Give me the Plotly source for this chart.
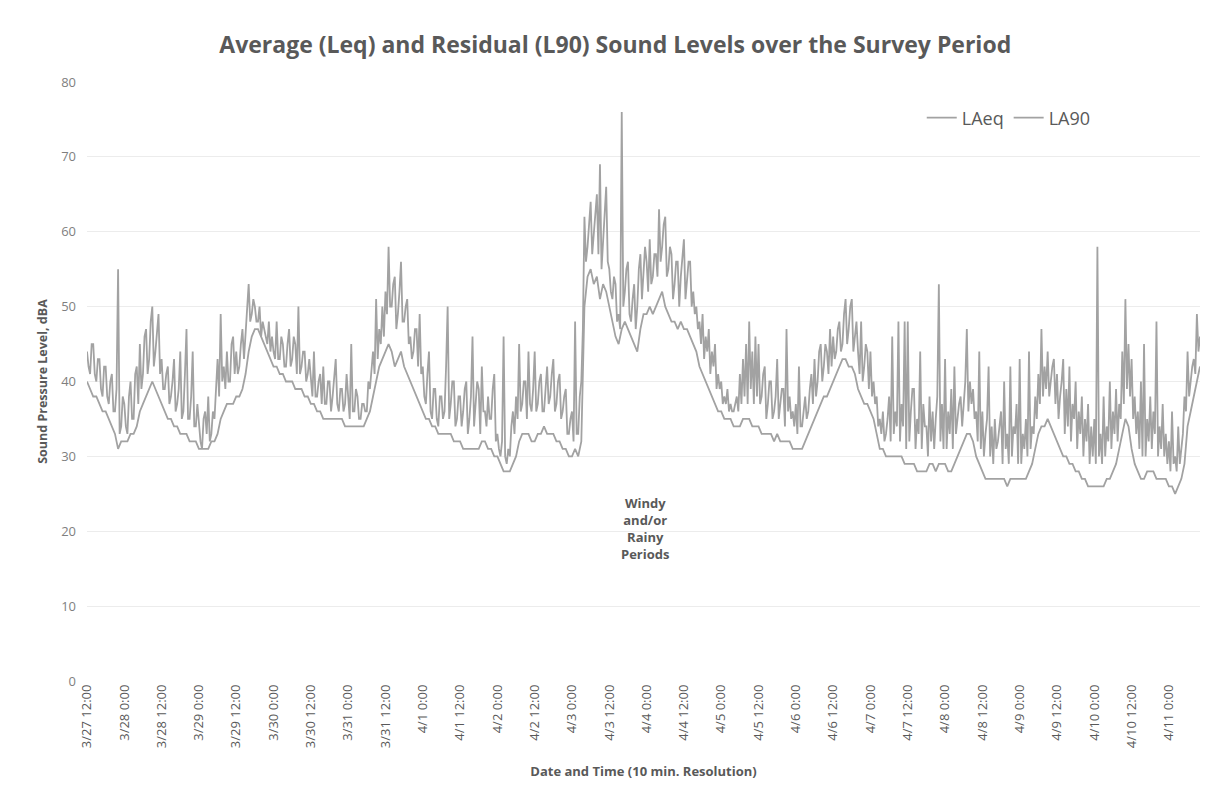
import pandas as pd
import plotly.graph_objects as go

# LAeq read every 30 min, LA90 read every hour, both starting 3/27 12:00
start_time = "2019-03-27 12:00"

laeq = [
    44, 42, 41, 45, 45, 41, 40, 43, 43, 39, 38, 42, 42, 38, 37, 40, 41, 36, 36, 39, 55, 33, 34, 38,
    37, 34, 33, 38, 40, 35, 35, 41, 42, 37, 45, 39, 41, 46, 47, 41, 43, 48, 50, 42, 44, 47, 49, 41,
    43, 39, 39, 41, 42, 37, 38, 40, 43, 36, 37, 39, 44, 35, 36, 41, 47, 35, 35, 38, 44, 34, 34, 37,
    34, 32, 31, 35, 36, 33, 38, 32, 33, 36, 35, 40, 43, 38, 49, 40, 42, 39, 44, 40, 40, 45, 46, 41,
    44, 41, 42, 45, 47, 43, 46, 49, 53, 48, 49, 51, 50, 48, 48, 50, 46, 48, 47, 46, 45, 48, 44, 46,
    44, 43, 48, 43, 43, 46, 45, 42, 42, 45, 47, 42, 43, 46, 45, 41, 50, 41, 42, 44, 44, 40, 41, 43,
    40, 38, 44, 38, 38, 40, 41, 37, 42, 37, 37, 40, 40, 36, 38, 41, 43, 37, 36, 39, 39, 36, 37, 41,
    38, 35, 45, 36, 36, 39, 38, 35, 35, 37, 37, 36, 36, 40, 39, 42, 44, 41, 51, 43, 47, 45, 50, 46,
    52, 49, 58, 50, 50, 53, 54, 47, 49, 52, 56, 48, 48, 50, 51, 45, 46, 43, 44, 47, 47, 42, 49, 41,
    42, 38, 37, 41, 44, 36, 35, 39, 39, 35, 34, 38, 38, 35, 36, 42, 50, 35, 37, 40, 40, 34, 35, 38,
    38, 34, 36, 39, 40, 33, 35, 38, 46, 34, 37, 40, 39, 33, 42, 36, 36, 34, 38, 35, 35, 39, 41, 32,
    33, 31, 30, 32, 46, 30, 29, 31, 30, 34, 36, 33, 38, 35, 45, 36, 37, 40, 40, 35, 44, 37, 36, 39,
    44, 36, 37, 40, 41, 36, 36, 39, 42, 37, 38, 41, 43, 36, 37, 40, 41, 35, 36, 38, 39, 33, 33, 35,
    36, 32, 48, 33, 33, 38, 40, 47, 62, 56, 58, 61, 64, 57, 60, 63, 65, 57, 69, 55, 59, 62, 66, 56,
    55, 52, 51, 54, 53, 48, 49, 47, 76, 50, 52, 55, 56, 49, 48, 51, 53, 47, 50, 55, 57, 51, 54, 58,
    56, 52, 59, 53, 54, 57, 57, 54, 63, 56, 58, 61, 62, 54, 55, 58, 57, 51, 53, 56, 56, 50, 54, 57,
    59, 51, 54, 56, 56, 50, 52, 49, 50, 47, 48, 45, 49, 43, 46, 44, 47, 41, 44, 42, 45, 39, 41, 39,
    40, 37, 38, 37, 39, 36, 37, 36, 36, 37, 38, 36, 41, 37, 43, 38, 45, 37, 48, 39, 44, 37, 46, 38,
    45, 37, 38, 41, 42, 35, 37, 40, 40, 35, 36, 38, 43, 35, 37, 39, 39, 34, 47, 36, 38, 35, 36, 34,
    37, 33, 42, 34, 34, 36, 38, 35, 36, 39, 41, 37, 43, 38, 40, 44, 45, 40, 42, 45, 44, 41, 47, 42,
    46, 43, 44, 47, 48, 44, 45, 49, 51, 45, 47, 50, 51, 44, 46, 48, 44, 41, 48, 40, 42, 45, 44, 39,
    44, 38, 40, 37, 38, 34, 35, 33, 36, 32, 33, 35, 38, 32, 46, 33, 36, 34, 48, 32, 37, 34, 48, 31,
    48, 32, 36, 39, 39, 31, 35, 33, 44, 31, 37, 34, 34, 30, 38, 32, 36, 31, 35, 38, 53, 32, 37, 31,
    43, 31, 36, 33, 39, 31, 42, 33, 35, 37, 38, 34, 37, 40, 47, 36, 40, 37, 39, 35, 36, 32, 44, 31,
    36, 30, 33, 35, 42, 30, 34, 29, 35, 31, 32, 34, 36, 29, 40, 31, 33, 29, 42, 30, 34, 33, 37, 29,
    43, 29, 33, 31, 35, 30, 44, 31, 34, 33, 38, 35, 41, 37, 47, 38, 42, 39, 44, 38, 40, 42, 43, 37,
    41, 35, 38, 40, 43, 33, 39, 34, 42, 32, 37, 35, 40, 31, 36, 33, 38, 30, 35, 32, 37, 29, 34, 30,
    35, 29, 58, 30, 33, 29, 38, 30, 34, 32, 40, 31, 36, 33, 39, 32, 37, 35, 44, 37, 51, 39, 45, 38,
    43, 35, 38, 33, 36, 31, 40, 30, 45, 30, 35, 32, 38, 31, 36, 33, 48, 30, 34, 31, 37, 30, 33, 29,
    32, 28, 36, 29, 30, 28, 34, 29, 31, 33, 38, 36, 44, 38, 40, 42, 43, 41, 49, 44, 46,
]

la90 = [
    40, 39, 38, 38, 37, 36, 36, 35, 34, 33, 31, 32,
    32, 32, 33, 33, 34, 36, 37, 38, 39, 40, 39, 38,
    37, 36, 35, 35, 34, 34, 33, 33, 33, 32, 32, 32,
    31, 31, 31, 31, 32, 32, 33, 35, 36, 37, 37, 37,
    38, 38, 39, 41, 44, 46, 47, 47, 46, 45, 44, 43,
    42, 42, 41, 41, 40, 40, 40, 39, 39, 39, 38, 38,
    37, 37, 36, 36, 35, 35, 35, 35, 35, 35, 35, 34,
    34, 34, 34, 34, 34, 34, 35, 36, 38, 40, 42, 43,
    44, 45, 44, 42, 43, 44, 42, 41, 40, 39, 38, 37,
    36, 35, 35, 34, 34, 33, 33, 33, 33, 33, 32, 32,
    32, 31, 31, 31, 31, 31, 31, 32, 32, 31, 31, 30,
    30, 29, 28, 28, 28, 29, 30, 32, 33, 33, 33, 32,
    32, 33, 33, 34, 33, 33, 33, 32, 32, 31, 31, 30,
    30, 31, 30, 32, 50, 54, 55, 53, 54, 51, 53, 52,
    50, 48, 46, 45, 47, 48, 47, 46, 45, 44, 47, 49,
    49, 50, 49, 50, 51, 52, 50, 49, 48, 48, 47, 48,
    47, 47, 46, 45, 44, 42, 41, 40, 39, 38, 37, 36,
    36, 35, 35, 35, 34, 34, 34, 35, 35, 35, 34, 34,
    34, 33, 33, 33, 33, 32, 33, 32, 32, 32, 32, 31,
    31, 31, 31, 32, 33, 34, 35, 36, 37, 38, 38, 39,
    40, 41, 42, 43, 43, 42, 42, 41, 39, 38, 37, 37,
    36, 35, 33, 31, 31, 30, 30, 30, 30, 30, 30, 29,
    29, 29, 29, 28, 28, 28, 28, 29, 29, 28, 29, 29,
    29, 28, 28, 29, 30, 31, 32, 33, 33, 32, 30, 29,
    28, 27, 27, 27, 27, 27, 27, 27, 26, 27, 27, 27,
    27, 27, 27, 28, 29, 31, 33, 34, 34, 35, 34, 33,
    32, 31, 30, 30, 29, 29, 28, 28, 27, 27, 26, 26,
    26, 26, 26, 26, 27, 27, 28, 29, 31, 33, 35, 34,
    31, 29, 28, 27, 27, 28, 28, 28, 27, 27, 27, 27,
    26, 26, 25, 26, 27, 29, 34, 36, 38, 40, 42,
]

tick_labels = [
    "3/27 12:00", "3/28 0:00", "3/28 12:00", "3/29 0:00", "3/29 12:00",
    "3/30 0:00", "3/30 12:00", "3/31 0:00", "3/31 12:00", "4/1 0:00",
    "4/1 12:00", "4/2 0:00", "4/2 12:00", "4/3 0:00", "4/3 12:00",
    "4/4 0:00", "4/4 12:00", "4/5 0:00", "4/5 12:00", "4/6 0:00",
    "4/6 12:00", "4/7 0:00", "4/7 12:00", "4/8 0:00", "4/8 12:00",
    "4/9 0:00", "4/9 12:00", "4/10 0:00", "4/10 12:00", "4/11 0:00",
]

t_eq = pd.date_range(start_time, periods=len(laeq), freq="30min")
t_90 = pd.date_range(start_time, periods=len(la90), freq="h")
tick_vals = pd.date_range(start_time, periods=len(tick_labels), freq="12h")

FONT = "Open Sans"
GRAY = "#a2a2a2"
TXT = "#595959"

fig = go.Figure()
fig.add_trace(go.Scatter(x=t_eq, y=laeq, mode="lines", name="LAeq",
                         line=dict(color=GRAY, width=1.8)))
fig.add_trace(go.Scatter(x=t_90, y=la90, mode="lines", name="LA90",
                         line=dict(color=GRAY, width=1.8)))

fig.add_annotation(x=pd.Timestamp("2019-04-03 23:30"), y=20.4,
                   text="Windy<br>and/or<br>Rainy<br>Periods",
                   showarrow=False, xanchor="center", yanchor="middle",
                   font=dict(family=FONT, size=13, color=TXT, weight="bold"),
                   align="center")

fig.update_layout(
    width=1193, height=772,
    paper_bgcolor="white", plot_bgcolor="white",
    margin=dict(l=79, r=1, t=74, b=99),
    title=dict(text="Average (Leq) and Residual (L90) Sound Levels over the Survey Period",
               x=0.509, xanchor="center", y=0.952, yanchor="middle",
               font=dict(family=FONT, size=23, color=TXT, weight="bold")),
    legend=dict(orientation="h", x=0.75, xanchor="left", y=0.94, yanchor="middle",
                bgcolor="rgba(0,0,0,0)", font=dict(family=FONT, size=18, color=TXT),
                itemwidth=30, tracegroupgap=0),
    showlegend=True,
)

fig.update_xaxes(
    range=[t_eq[0], t_eq[-1]],
    tickvals=tick_vals, ticktext=tick_labels, tickangle=-90,
    tickfont=dict(family=FONT, size=13, color=TXT),
    showgrid=False, showline=False, zeroline=False, ticks="",
    title=dict(text="Date and Time (10 min. Resolution)", standoff=20,
               font=dict(family=FONT, size=13, color=TXT, weight="bold")),
)
fig.update_yaxes(
    range=[0, 80], dtick=10,
    tickfont=dict(family=FONT, size=13, color="#7f7f7f"),
    ticklabelstandoff=10,
    showgrid=True, gridcolor="#ececec", gridwidth=1,
    zeroline=False, showline=False, ticks="",
    title=dict(text="Sound Pressure Level, dBA", standoff=10,
               font=dict(family=FONT, size=12.5, color=TXT, weight="bold")),
)

fig.write_html("out.html")
